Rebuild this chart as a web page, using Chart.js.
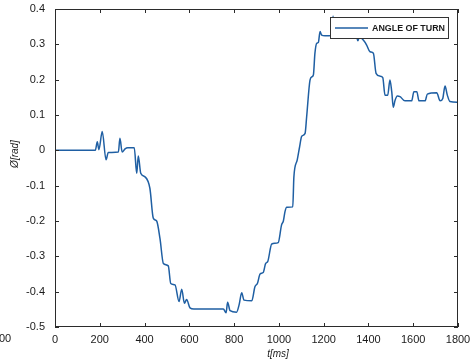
<!DOCTYPE html>
<html>
<head>
<meta charset="utf-8">
<script src="https://cdn.jsdelivr.net/npm/chart.js@4/dist/chart.umd.min.js"></script>
<style>
  html, body { margin: 0; padding: 0; background: #fff; }
  #wrap { width: 476px; height: 362px; }
</style>
</head>
<body>
<div id="wrap"><canvas id="c" width="476" height="362"></canvas></div>
<script>
// ---- data ----
const timeMs = [0, 180, 189, 196, 211, 228, 238, 283, 290, 300, 313, 325, 354, 365, 372, 383, 402, 424, 439, 454, 469, 484, 506, 517, 536, 554, 566, 578, 588, 603, 620, 752, 764, 771, 782, 811, 822, 834, 844, 879, 893, 904, 916, 930, 941, 950, 968, 997, 1012, 1020, 1027, 1035, 1062, 1067, 1082, 1092, 1102, 1117, 1124, 1139, 1147, 1154, 1161, 1169, 1176, 1184, 1191, 1206, 1236, 1242, 1248, 1345, 1353, 1360, 1377, 1392, 1407, 1422, 1434, 1452, 1464, 1474, 1486, 1496, 1504, 1511, 1519, 1529, 1541, 1563, 1593, 1603, 1616, 1626, 1653, 1663, 1705, 1720, 1732, 1742, 1752, 1764, 1800];
const angleRad = [0, 0, 0.024, 0.002, 0.053, -0.027, -0.006, -0.005, 0.034, -0.005, 0.004, 0.007, 0.007, -0.065, -0.016, -0.065, -0.075, -0.108, -0.192, -0.2, -0.25, -0.32, -0.327, -0.377, -0.381, -0.428, -0.393, -0.433, -0.422, -0.446, -0.449, -0.449, -0.46, -0.43, -0.454, -0.458, -0.438, -0.403, -0.424, -0.426, -0.386, -0.377, -0.35, -0.346, -0.32, -0.315, -0.265, -0.261, -0.211, -0.2, -0.174, -0.161, -0.16, -0.075, -0.027, 0.008, 0.04, 0.048, 0.095, 0.199, 0.208, 0.213, 0.275, 0.303, 0.305, 0.336, 0.326, 0.324, 0.325, 0.38, 0.325, 0.324, 0.31, 0.322, 0.312, 0.298, 0.279, 0.275, 0.218, 0.21, 0.206, 0.156, 0.156, 0.199, 0.166, 0.122, 0.142, 0.154, 0.152, 0.14, 0.14, 0.166, 0.166, 0.14, 0.14, 0.159, 0.163, 0.14, 0.147, 0.182, 0.157, 0.138, 0.136];
const xTicks = [0, 200, 400, 600, 800, 1000, 1200, 1400, 1600, 1800];
const yTicks = [-0.5, -0.4, -0.3, -0.2, -0.1, 0, 0.1, 0.2, 0.3, 0.4];
const seriesName = 'ANGLE OF TURN';
const xTitle = 't[ms]';
const yTitle = 'Ø[rad]';

const LINE_COLOR = '#1f5fa3';
const FRAME = '#2b2b2b';
const TEXT = '#1a1a1a';
const FONT = '"Liberation Sans", Arial, sans-serif';

const points = timeMs.map((t, i) => ({ x: t, y: angleRad[i] }));

const decor = {
  id: 'decor',
  afterDatasetsDraw(chart) {
    const { ctx, chartArea: a, scales } = chart;
    const xs = scales.x, ys = scales.y;
    ctx.save();
    // frame
    ctx.strokeStyle = FRAME;
    ctx.lineWidth = 1;
    ctx.strokeRect(Math.round(a.left) + 0.5, Math.round(a.top) + 0.5,
                   Math.round(a.right - a.left) - 1, Math.round(a.bottom - a.top) - 1);
    // inward ticks on all four sides
    const tl = 4;
    ctx.beginPath();
    xTicks.forEach(v => {
      const px = Math.round(xs.getPixelForValue(v)) + 0.5;
      ctx.moveTo(px, a.bottom); ctx.lineTo(px, a.bottom - tl);
      ctx.moveTo(px, a.top); ctx.lineTo(px, a.top + tl);
    });
    yTicks.forEach(v => {
      const py = Math.round(ys.getPixelForValue(v)) + 0.5;
      ctx.moveTo(a.left, py); ctx.lineTo(a.left + tl, py);
      ctx.moveTo(a.right, py); ctx.lineTo(a.right - tl, py);
    });
    ctx.stroke();

    // legend box
    const lx = 330, ly = 17, lw = 118, lh = 21;
    ctx.fillStyle = '#fff';
    ctx.fillRect(lx, ly, lw, lh);
    ctx.strokeStyle = '#333';
    ctx.strokeRect(lx + 0.5, ly + 0.5, lw, lh);
    ctx.strokeStyle = LINE_COLOR;
    ctx.lineWidth = 1.4;
    ctx.beginPath();
    ctx.moveTo(335, ly + 11); ctx.lineTo(368, ly + 11);
    ctx.stroke();
    let fs = 9.5;
    ctx.font = 'bold ' + fs + 'px ' + FONT;
    const w = ctx.measureText(seriesName).width;
    fs = fs * 73 / w;
    ctx.font = 'bold ' + fs.toFixed(2) + 'px ' + FONT;
    ctx.fillStyle = TEXT;
    ctx.textBaseline = 'middle';
    ctx.textAlign = 'left';
    ctx.fillText(seriesName, 372, ly + 11.5);

    // axis titles
    ctx.font = 'italic 10px ' + FONT;
    ctx.textAlign = 'center';
    ctx.fillStyle = TEXT;
    ctx.fillText(xTitle, 278, 354);
    ctx.save();
    ctx.translate(15, 154);
    ctx.rotate(-Math.PI / 2);
    ctx.fillText(yTitle, 0, 0);
    ctx.restore();

    // clipped fragment at the left edge of the reference
    ctx.font = '11px ' + FONT;
    ctx.textAlign = 'left';
    ctx.fillStyle = TEXT;
    ctx.fillText('00', -1, 339);
    ctx.restore();
  }
};

new Chart(document.getElementById('c'), {
  type: 'line',
  data: {
    datasets: [{
      label: seriesName,
      data: points,
      borderColor: LINE_COLOR,
      borderWidth: 1.5,
      pointRadius: 0,
      fill: false,
      cubicInterpolationMode: 'monotone'
    }]
  },
  options: {
    responsive: false,
    animation: false,
    layout: { padding: { left: 0, right: 18, top: 9, bottom: 0 } },
    plugins: { legend: { display: false }, tooltip: { enabled: false } },
    scales: {
      x: {
        type: 'linear', min: 0, max: 1800,
        afterBuildTicks(s) { s.ticks = xTicks.map(v => ({ value: v })); },
        afterFit(s) { s.height = 35; s.paddingLeft = 0; s.paddingRight = 0; },
        grid: { display: false, drawTicks: false },
        border: { display: false },
        ticks: { font: { family: FONT, size: 11 }, color: TEXT, padding: 6, maxRotation: 0,
                 callback: v => String(v) }
      },
      y: {
        type: 'linear', min: -0.5, max: 0.4,
        afterBuildTicks(s) { s.ticks = yTicks.map(v => ({ value: v })); },
        afterFit(s) { s.width = 55; s.paddingTop = 0; s.paddingBottom = 0; },
        grid: { display: false, drawTicks: false },
        border: { display: false },
        ticks: { font: { family: FONT, size: 11 }, color: TEXT, padding: 10,
                 callback: v => (Math.abs(v) < 1e-9 ? '0' : String(Math.round(v * 10) / 10)) }
      }
    }
  },
  plugins: [decor]
});
</script>
</body>
</html>
